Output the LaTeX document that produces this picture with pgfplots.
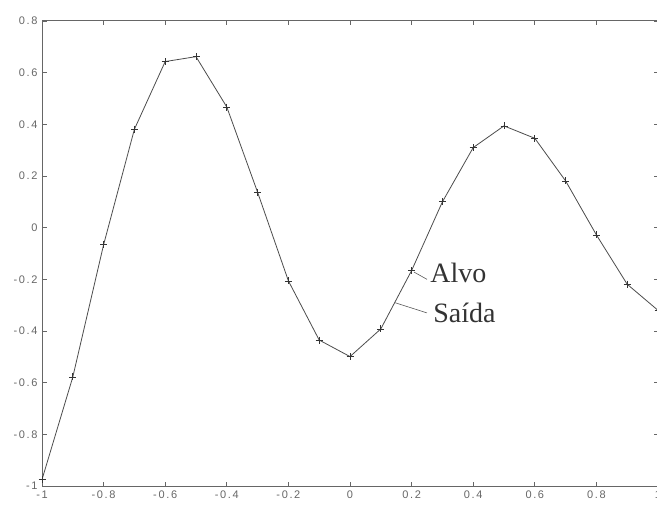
\documentclass[border=0pt]{standalone}
\usepackage{pgfplots}
\pgfplotsset{compat=1.18}
\usepackage{fontspec}
\setmainfont{Liberation Sans}
\newfontfamily\serif{Liberation Serif}
\newfontfamily\ticksans[LetterSpace=15]{Liberation Sans}
\begin{document}
\begin{tikzpicture}
\begin{axis}[
  scale only axis, width=616pt, height=465pt,
  xmin=-1, xmax=1, ymin=-1, ymax=0.8,
  xtick={-1,-0.8,-0.6,-0.4,-0.2,0,0.2,0.4,0.6,0.8,1},
  ytick={-1,-0.8,-0.6,-0.4,-0.2,0,0.2,0.4,0.6,0.8},
  tick align=inside, tick pos=both,
  major tick length=4.5pt,
  axis line style={black!60, line width=1pt},
  tick style={black!60, line width=0.8pt},
  tick label style={font=\ticksans\fontsize{11}{12}\selectfont, text=black!60},
  /pgf/number format/assume math mode=true,
  xticklabel style={yshift=-1pt},
  yticklabel style={xshift=-1pt},
]
\addplot[black!70, line width=0.8pt] coordinates {
(-1,-0.975) (-0.9,-0.578) (-0.8,-0.066) (-0.7,0.381) (-0.6,0.643) (-0.5,0.662)
(-0.4,0.467) (-0.3,0.137) (-0.2,-0.206) (-0.1,-0.435) (0,-0.499) (0.1,-0.392)
(0.2,-0.166) (0.3,0.100) (0.4,0.310) (0.5,0.394) (0.6,0.346) (0.7,0.181)
(0.8,-0.028) (0.9,-0.219) (1,-0.32)};
\addplot[only marks, mark=+, mark size=3.5pt, black!80, line width=0.7pt] coordinates {
(-1,-0.975) (-0.9,-0.578) (-0.8,-0.066) (-0.7,0.381) (-0.6,0.643) (-0.5,0.662)
(-0.4,0.467) (-0.3,0.137) (-0.2,-0.206) (-0.1,-0.435) (0,-0.499) (0.1,-0.392)
(0.2,-0.166) (0.3,0.100) (0.4,0.310) (0.5,0.394) (0.6,0.346) (0.7,0.181)
(0.8,-0.028) (0.9,-0.219) (1,-0.32)};
\draw[black!65, line width=0.6pt] (axis cs:0.208,-0.172) -- (axis cs:0.25,-0.20);
\draw[black!65, line width=0.6pt] (axis cs:0.145,-0.29) -- (axis cs:0.25,-0.33);
\node[anchor=base west, inner sep=0pt, font=\serif\fontsize{28}{30}\selectfont, text=black!80] at (axis cs:0.26,-0.212) {Alvo};
\node[anchor=base west, inner sep=0pt, font=\serif\fontsize{28}{30}\selectfont, text=black!80] at (axis cs:0.27,-0.367) {Saída};
\end{axis}
\pgfresetboundingbox
\path ([xshift=-42pt,yshift=-23pt]current axis.south west) rectangle ([xshift=-1pt,yshift=21pt]current axis.north east);
\end{tikzpicture}
\end{document}
